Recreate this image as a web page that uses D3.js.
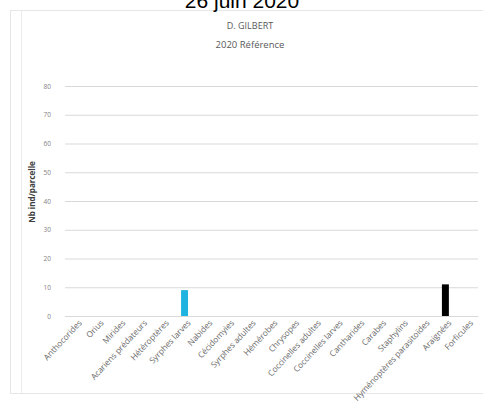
<!DOCTYPE html>
<html><head><meta charset="utf-8">
<script src="https://cdn.jsdelivr.net/npm/d3@7"></script>
<style>body{margin:0;background:#fff}svg{display:block}</style>
</head><body>
<script>
const categories = ["Anthocorides","Orius","Mirides","Acariens prédateurs","Hétéroptères","Syrphes larves","Nabides","Cécidomyies","Syrphes adultes","Hémérobes","Chrysopes","Coccinelles adultes","Coccinelles larves","Cantharides","Carabes","Staphylins","Hyménoptères parasitoïdes","Araignées","Forficules"];
const values = [0,0,0,0,0,9,0,0,0,0,0,0,0,0,0,0,0,11,0];
const barColors = ["#1fb4e0","#1fb4e0","#1fb4e0","#1fb4e0","#1fb4e0","#1fb4e0","#1fb4e0","#1fb4e0","#1fb4e0","#1fb4e0","#1fb4e0","#1fb4e0","#1fb4e0","#1fb4e0","#1fb4e0","#1fb4e0","#1fb4e0","#000000","#1fb4e0"];
const yTicks = [0,10,20,30,40,50,60,70,80];

const W=483,H=405;
const svg=d3.select("body").append("svg").attr("width",W).attr("height",H);
const font="'Open Sans','Liberation Sans',sans-serif";

svg.append("rect").attr("x",10.5).attr("y",10.5).attr("width",480).attr("height",383).attr("fill","none").attr("stroke","#e6e6e6");
svg.append("line").attr("x1",21.5).attr("x2",21.5).attr("y1",10).attr("y2",393).attr("stroke","#ececec");

svg.append("text").attr("x",242).attr("y",8).attr("text-anchor","middle").attr("font-family","'Liberation Sans',sans-serif").attr("font-size",21).attr("fill","#000").text("26 juin 2020");
svg.append("text").attr("x",250).attr("y",29).attr("text-anchor","middle").attr("font-family",font).attr("font-size",9).attr("fill","#595959").text("D. GILBERT");
svg.append("text").attr("x",250).attr("y",48).attr("text-anchor","middle").attr("font-family",font).attr("font-size",9.5).attr("fill","#595959").text("2020 Référence");

const x=d3.scaleBand().domain(categories).range([65,478]).paddingInner(0.68).paddingOuter(0.34);
const y=d3.scaleLinear().domain([0,80]).range([316,86]);

const ya=svg.append("g").attr("transform","translate(65,0)").call(d3.axisLeft(y).tickValues(yTicks).tickSize(-413).tickPadding(14));
ya.select(".domain").remove();
ya.selectAll(".tick line").attr("stroke","#d9d9d9");
ya.selectAll(".tick text").attr("font-family",font).attr("font-size",6.5).attr("fill","#7f7f7f");

svg.append("text").attr("transform","translate(35,192) rotate(-90)").attr("text-anchor","middle").attr("font-family",font).attr("font-weight","bold").attr("font-size",8).attr("fill","#404040").text("Nb ind/parcelle");

svg.selectAll(".bar").data(categories).enter().append("rect")
 .attr("x",d=>x(d)).attr("width",x.bandwidth())
 .attr("y",(d,i)=>y(values[i])).attr("height",(d,i)=>y(0)-y(values[i]))
 .attr("fill",(d,i)=>barColors[i]);

const xa=svg.append("g").attr("transform","translate(0,316)").call(d3.axisBottom(x).tickSize(0).tickPadding(6));
xa.select(".domain").attr("stroke","#d9d9d9");
xa.selectAll(".tick text").attr("font-family",font).attr("font-size",8.3).attr("fill","#6b6b6b")
 .attr("text-anchor","end").attr("transform","rotate(-47)").attr("dx","-0.1em").attr("dy","0.45em");
</script>
</body></html>
